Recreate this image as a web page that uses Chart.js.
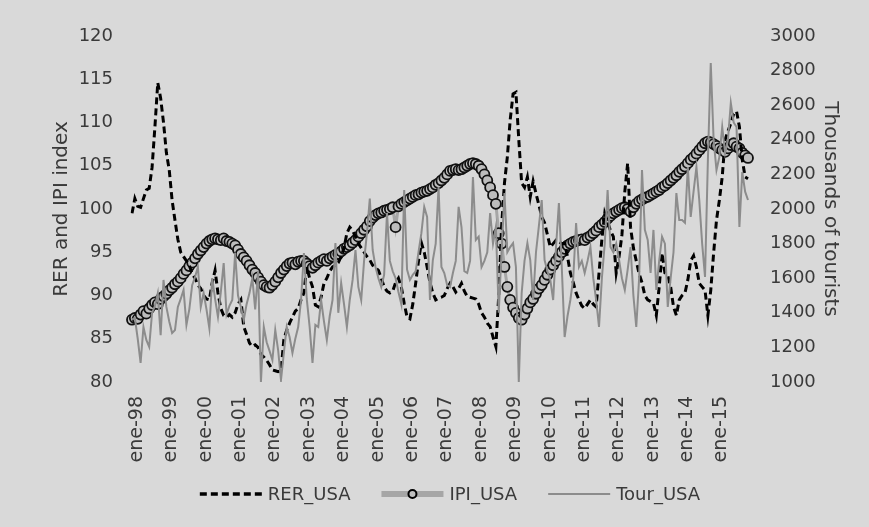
<!DOCTYPE html>
<html>
<head>
<meta charset="utf-8">
<script src="https://cdn.jsdelivr.net/npm/chart.js@4.4.1/dist/chart.umd.min.js"></script>
<style>
  html, body { margin: 0; padding: 0; background: #d9d9d9; }
  #wrap { width: 869px; height: 527px; }
</style>
</head>
<body>
<div id="wrap"><canvas id="chart" width="869" height="527"></canvas></div>
<script>
// --- data (monthly, ene-98 .. dic-15) ---
const monthNames = ['ene', 'feb', 'mar', 'abr', 'may', 'jun', 'jul', 'ago', 'sep', 'oct', 'nov', 'dic'];
const years = ['98', '99', '00', '01', '02', '03', '04', '05', '06', '07', '08', '09', '10', '11', '12', '13', '14', '15'];
const categories = years.flatMap(y => monthNames.map(m => m + '-' + y));

const rerUSA = [
  99.5, 101.2, 100.3, 100.2, 101.2, 102.2, 102.4, 104.8, 109.5, 114.6, 112.8, 110.0,
  106.5, 104.5, 101.0, 98.7, 96.5, 95.0, 94.5, 94.0, 93.5, 92.5, 92.0, 91.2,
  90.8, 90.0, 89.6, 89.5, 91.5, 92.9, 90.3, 88.5, 87.7, 87.5, 87.8, 87.5,
  88.0, 89.0, 89.5, 86.4, 85.5, 84.5, 84.1, 84.3, 84.0, 83.2, 82.9, 82.5,
  82.0, 81.4, 81.3, 81.2, 81.3, 84.9, 86.0, 86.8, 87.5, 88.2, 88.5, 89.5,
  90.3, 93.3, 92.0, 91.0, 88.9, 88.7, 89.8, 91.4, 92.0, 92.8, 93.3, 93.5,
  93.8, 94.5, 95.5, 97.2, 97.9, 97.5, 96.8, 96.0, 95.5, 95.0, 94.5, 94.1,
  93.5, 93.2, 92.9, 92.0, 91.0, 90.5, 90.3, 90.5, 91.5, 92.0, 91.0, 89.1,
  87.5, 87.3, 89.0, 91.4, 94.0, 96.1, 95.0, 93.3, 91.5, 90.3, 89.5, 89.7,
  89.8, 90.0, 90.8, 91.4, 91.0, 90.4, 90.8, 91.4, 90.5, 89.9, 89.8, 89.7,
  89.6, 89.0, 88.0, 87.5, 86.8, 86.4, 85.2, 84.1, 90.0, 98.0, 103.0, 106.0,
  110.3, 113.3, 113.5, 108.0, 103.0, 102.5, 103.7, 101.4, 103.2, 101.8, 100.5, 99.1,
  98.4, 97.0, 95.6, 96.0, 96.4, 96.2, 96.0, 96.0, 94.5, 92.6, 91.5, 90.3,
  89.5, 88.8, 88.5, 89.0, 89.5, 89.0, 88.7, 92.6, 96.5, 99.5, 98.5, 97.5,
  96.8, 92.6, 94.5, 97.0, 102.0, 105.3, 97.9, 95.5, 94.0, 92.5, 91.5, 90.0,
  89.5, 89.3, 89.1, 87.7, 91.0, 94.9, 92.6, 92.3, 91.0, 88.7, 87.7, 89.5,
  90.0, 90.3, 91.8, 94.0, 94.6, 93.3, 91.4, 91.0, 90.6, 87.7, 90.6, 94.9,
  98.7, 101.0, 103.7, 108.0, 109.0, 109.9, 111.0, 111.3, 109.5, 105.7, 103.7, 103.5
];

const ipiUSA = [
  87.2, 87.4, 87.3, 87.8, 88.2, 87.9, 88.5, 88.9, 89.2, 89.0, 89.6, 89.9,
  90.2, 90.6, 90.9, 91.3, 91.6, 92.0, 92.5, 92.9, 93.4, 93.8, 94.3, 94.8,
  95.2, 95.6, 96.0, 96.3, 96.5, 96.6, 96.5, 96.4, 96.6, 96.3, 96.2, 96.0,
  95.8, 95.3, 94.8, 94.4, 94.0, 93.5, 93.0, 92.6, 92.1, 91.6, 91.2, 91.0,
  90.9, 91.2, 91.6, 92.1, 92.6, 93.0, 93.4, 93.7, 93.8, 93.6, 93.9, 94.0,
  94.0, 93.7, 93.4, 93.2, 93.5, 93.8, 94.0, 94.2, 94.0, 94.3, 94.5, 94.7,
  94.8, 95.1, 95.4, 95.6, 95.8, 96.1, 96.4, 96.8, 97.2, 97.6, 98.0, 98.6,
  99.0, 99.3, 99.5, 99.6, 99.8, 99.9, 100.0, 100.2, 97.9, 100.3, 100.6, 100.8,
  101.0, 101.2, 101.4, 101.6, 101.7, 101.9, 102.0, 102.1, 102.3, 102.5, 102.8, 103.0,
  103.3, 103.6, 104.0, 104.4, 104.5, 104.6, 104.5, 104.6, 104.8, 105.0, 105.2, 105.3,
  105.2, 105.0, 104.6, 104.0, 103.3, 102.5, 101.6, 100.6, 97.2, 96.0, 93.3, 91.0,
  89.5, 88.6, 88.0, 87.4, 87.2, 87.8, 88.5, 89.2, 89.6, 90.2, 90.8, 91.2,
  91.8, 92.4, 93.0, 93.5, 94.0, 94.5, 95.0, 95.4, 95.8, 96.0, 96.2, 96.3,
  96.4, 96.5, 96.4, 96.7, 96.9, 97.2, 97.5, 97.9, 98.2, 98.5, 98.9, 99.2,
  99.5, 99.7, 99.9, 100.1, 100.2, 100.0, 99.7, 100.2, 100.6, 100.9, 101.1, 101.3,
  101.4, 101.6, 101.8, 102.0, 102.2, 102.5, 102.7, 103.0, 103.3, 103.6, 103.9, 104.3,
  104.6, 104.9, 105.3, 105.7, 106.0, 106.4, 106.8, 107.2, 107.6, 107.8, 107.7, 107.5,
  107.3, 107.0, 106.8, 106.6, 107.0, 107.4, 107.6, 107.2, 107.0, 106.5, 106.2, 105.9
];

const tourUSA = [
  1360, 1370, 1250, 1110, 1318, 1243, 1203, 1399, 1440, 1514, 1270, 1590,
  1434, 1350, 1283, 1300, 1434, 1480, 1532, 1330, 1420, 1560, 1607, 1665,
  1434, 1514, 1420, 1310, 1600, 1480, 1376, 1520, 1688, 1390, 1440, 1474,
  1746, 1500, 1434, 1358, 1450, 1514, 1600, 1420, 1640, 1000, 1318, 1230,
  1180, 1127, 1301, 1185, 1012, 1168, 1318, 1260, 1168, 1250, 1318, 1474,
  1746, 1480, 1318, 1110, 1330, 1318, 1474, 1350, 1243, 1380, 1474, 1803,
  1400, 1572, 1450, 1318, 1474, 1590, 1763, 1550, 1474, 1700, 1860, 2060,
  1763, 1665, 1600, 1549, 1620, 1977, 1700, 1640, 1600, 1520, 1450, 2110,
  1650, 1590, 1620, 1640, 1750, 1860, 2012, 1954, 1474, 1705, 1800, 2127,
  1665, 1630, 1560, 1549, 1630, 1700, 2012, 1896, 1640, 1630, 1700, 2185,
  1821, 1840, 1665, 1700, 1750, 1977, 1800, 1896, 1400, 1760, 2092, 1750,
  1780, 1803, 1665, 1000, 1514, 1700, 1803, 1705, 1474, 1750, 1900, 2052,
  1705, 1640, 1590, 1474, 1780, 2035, 1665, 1260, 1380, 1474, 1600, 1919,
  1665, 1700, 1630, 1700, 1780, 1600, 1474, 1318, 1600, 1800, 2110, 1780,
  1750, 1800, 1705, 1600, 1532, 1650, 1780, 1500, 1318, 1600, 2225, 1880,
  1821, 1630, 1879, 1532, 1700, 1840, 1800, 1434, 1600, 1750, 2092, 1936,
  1936, 1920, 2243, 1954, 2100, 2243, 2050, 1800, 1607, 2283, 2844, 2399,
  2225, 2300, 2474, 2324, 2400, 2613, 2500, 2474, 1896, 2213, 2100, 2052
];

const TEXT = '#3a3a3a';
const FONT = '"DejaVu Sans", sans-serif';

// grey page background like the Excel chart area
const bgPlugin = {
  id: 'bg',
  beforeDraw(chart) {
    const c = chart.ctx;
    c.save();
    c.fillStyle = '#d9d9d9';
    c.fillRect(0, 0, chart.width, chart.height);
    c.restore();
  }
};

// Excel-style legend: line sample + label, centered at the bottom
const legendPlugin = {
  id: 'excelLegend',
  afterDraw(chart) {
    const c = chart.ctx;
    const y = 494, sample = 62, gap = 6, spacing = 31;
    const styles = [
      { width: 3.5, dash: [7, 4], color: '#000000' },
      { width: 6, dash: [], color: '#a6a6a6', marker: true },
      { width: 2, dash: [], color: '#8c8c8c' }
    ];
    c.save();
    c.font = '18px ' + FONT;
    const ds = chart.data.datasets;
    const widths = ds.map(d => c.measureText(d.label).width);
    const total = widths.reduce((a, w) => a + sample + gap + w, 0) + spacing * (ds.length - 1);
    let x = 450 - total / 2;
    ds.forEach((d, i) => {
      const s = styles[i];
      c.strokeStyle = s.color;
      c.lineWidth = s.width;
      c.setLineDash(s.dash);
      c.beginPath();
      c.moveTo(x, y);
      c.lineTo(x + sample, y);
      c.stroke();
      c.setLineDash([]);
      if (s.marker) {
        c.beginPath();
        c.arc(x + sample / 2, y, 4, 0, Math.PI * 2);
        c.fillStyle = '#bfbfbf';
        c.fill();
        c.lineWidth = 2;
        c.strokeStyle = '#000';
        c.stroke();
      }
      c.fillStyle = TEXT;
      c.textBaseline = 'middle';
      c.textAlign = 'left';
      c.fillText(d.label, x + sample + gap, y + 1);
      x += sample + gap + widths[i] + spacing;
    });
    c.restore();
  }
};

new Chart(document.getElementById('chart'), {
  type: 'line',
  data: {
    labels: categories,
    datasets: [
      {
        label: 'RER_USA', data: rerUSA, yAxisID: 'y',
        borderColor: '#000000', borderWidth: 3, borderDash: [7, 4],
        pointRadius: 0, tension: 0, order: 1
      },
      {
        label: 'IPI_USA', data: ipiUSA, yAxisID: 'y',
        borderColor: '#a6a6a6', borderWidth: 3,
        pointRadius: 5, pointBackgroundColor: '#bdbdbd',
        pointBorderColor: '#111111', pointBorderWidth: 1.8,
        tension: 0, order: 2
      },
      {
        label: 'Tour_USA', data: tourUSA, yAxisID: 'y1',
        borderColor: '#8c8c8c', borderWidth: 2,
        pointRadius: 0, tension: 0, order: 0
      }
    ]
  },
  options: {
    responsive: false,
    animation: false,
    layout: { padding: { left: 50, right: 27, top: 36, bottom: 45 } },
    plugins: { legend: { display: false }, tooltip: { enabled: false } },
    scales: {
      x: {
        grid: { display: false, drawTicks: false },
        border: { display: false },
        ticks: {
          autoSkip: false, maxRotation: 90, minRotation: 90,
          padding: 14, labelOffset: 5,
          color: TEXT, font: { family: FONT, size: 19 },
          callback: (v, i) => (i % 12 === 0 ? categories[i] : '')
        },
        afterFit: s => { s.height = 100; }
      },
      y: {
        position: 'left', min: 80, max: 120,
        grid: { display: false, drawTicks: false },
        border: { display: false },
        ticks: { stepSize: 5, padding: 19, color: TEXT, font: { family: FONT, size: 18 } },
        title: { display: true, text: 'RER and IPI index', color: TEXT, font: { family: FONT, size: 20 }, padding: 0 },
        afterFit: s => { s.width = 82; }
      },
      y1: {
        position: 'right', min: 1000, max: 3000,
        grid: { display: false, drawTicks: false },
        border: { display: false },
        ticks: {
          stepSize: 200, padding: 22, color: TEXT, font: { family: FONT, size: 18 },
          callback: v => String(v)
        },
        title: { display: true, text: 'Thousands of tourists', color: TEXT, font: { family: FONT, size: 20 }, padding: 0 },
        afterFit: s => { s.width = 94; }
      }
    }
  },
  plugins: [bgPlugin, legendPlugin]
});
</script>
</body>
</html>
